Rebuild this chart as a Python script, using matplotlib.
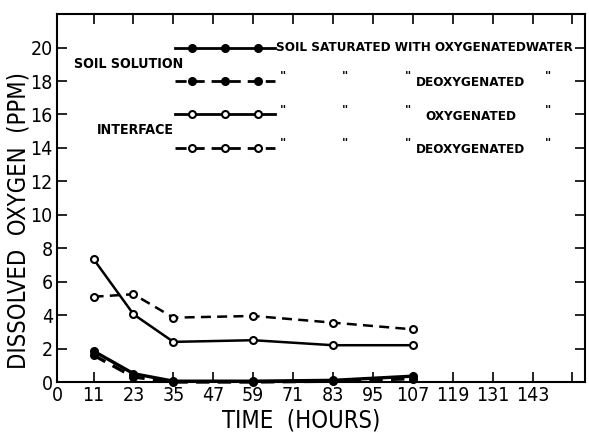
import matplotlib
matplotlib.use("Agg")
import matplotlib.pyplot as plt

hours = [11, 23, 35, 59, 83, 107]
soil_oxy = [1.85, 0.5, 0.05, 0.05, 0.1, 0.35]
soil_deoxy = [1.6, 0.3, 0.0, 0.0, 0.05, 0.2]
inter_oxy = [7.35, 4.05, 2.4, 2.5, 2.2, 2.2]
inter_deoxy = [5.1, 5.25, 3.85, 3.95, 3.55, 3.15]

xticks = [0, 11, 23, 35, 47, 59, 71, 83, 95, 107, 119, 131, 143, 155]
xticklabels = ["0", "11", "23", "35", "47", "59", "71", "83", "95", "107", "119", "131", "143", ""]
yticks = [0, 2, 4, 6, 8, 10, 12, 14, 16, 18, 20]

plt.rcParams['font.family'] = ["DejaVu Sans"]
plt.rcParams['font.stretch'] = 'condensed'

fig = plt.figure(figsize=(5.89, 4.4), dpi=100)
ax = fig.add_axes([0.0968, 0.1318, 0.896, 0.836])

styles = [
    (soil_oxy, '-', 'black', 2.4),
    (soil_deoxy, '--', 'black', 2.4),
    (inter_oxy, '-', 'white', 1.8),
    (inter_deoxy, '--', 'white', 1.8),
]
for vals, ls, mfc, lw in styles:
    ax.plot(hours, vals, ls=ls, color='black', lw=lw, marker='o', ms=5,
            mfc=mfc, mec='black', mew=1.5, clip_on=False, zorder=3,
            dashes=(4, 2.5) if ls == '--' else (None, None))

leg_x = [35.5, 40.5, 50.5, 60.3, 65.5]
leg_rows = [(20, '-', 'black'), (18, '--', 'black'), (16, '-', 'white'), (14, '--', 'white')]
for y, ls, mfc in leg_rows:
    ax.plot(leg_x, [y] * len(leg_x), ls=ls, color='black', lw=2,
            dashes=(4, 2.5) if ls == '--' else (None, None))
    ax.plot(leg_x[1:4], [y] * 3, ls='none', marker='o', ms=5, mfc=mfc,
            mec='black', mew=1.5)

tfs = 9.6
ax.text(65.8, 20, "SOIL SATURATED WITH OXYGENATEDWATER", fontsize=tfs,
        fontweight='bold', va='center', ha='left')
for y, word in [(18, "DEOXYGENATED"), (16, "OXYGENATED"), (14, "DEOXYGENATED")]:
    ax.text(68.0, y + 0.25, '"', fontsize=tfs, fontweight='bold', va='center', ha='center')
    ax.text(86.6, y + 0.25, '"', fontsize=tfs, fontweight='bold', va='center', ha='center')
    ax.text(105.5, y + 0.25, '"', fontsize=tfs, fontweight='bold', va='center', ha='center')
    ax.text(124.4, y - 0.1, word, fontsize=tfs, fontweight='bold', va='center', ha='center')
    ax.text(147.7, y + 0.25, '"', fontsize=tfs, fontweight='bold', va='center', ha='center')

ax.text(5, 19.0, "SOIL SOLUTION", fontsize=tfs + 0.6, fontweight='bold', va='center', ha='left')
ax.text(12, 15.1, "INTERFACE", fontsize=tfs + 0.6, fontweight='bold', va='center', ha='left')

ax.set_xlim(0, 158.7)
ax.set_ylim(0, 22)
ax.set_xticks(xticks)
ax.set_xticklabels(xticklabels)
ax.set_yticks(yticks)
ax.tick_params(direction='in', length=7, width=1.2, labelsize=14, top=True, right=True, pad=3)
for s in ax.spines.values():
    s.set_linewidth(1.5)

ax.set_xlabel("TIME  (HOURS)", fontsize=17)
ax.set_ylabel("DISSOLVED  OXYGEN  (PPM)", fontsize=17)
ax.xaxis.set_label_coords(0.462, -0.072)
ax.yaxis.set_label_coords(-0.05, 0.44)

fig.savefig("out.png", dpi=100)
